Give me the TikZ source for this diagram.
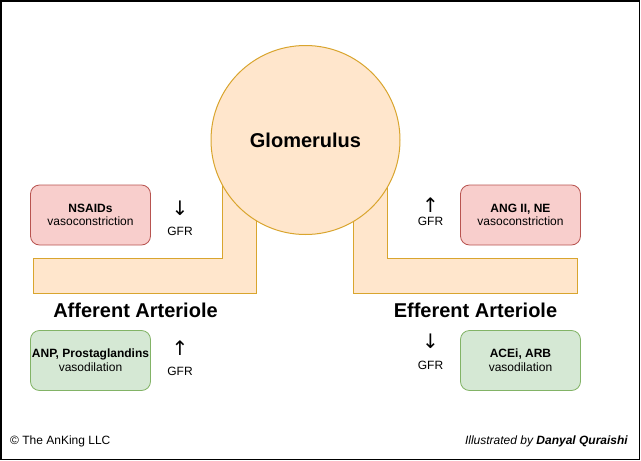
\documentclass[tikz,border=0pt]{standalone}
\usepackage{fontspec}
\setmainfont{Liberation Sans}
\newfontfamily\arrowfont{DejaVu Sans}
\usepackage{tikz}
\usetikzlibrary{positioning}
\definecolor{cPipe}     {HTML}{FFE6CC}
\definecolor{cPipeLine} {HTML}{D9A52E}
\definecolor{cConstr}   {HTML}{F8CECC}
\definecolor{cConstrLn} {HTML}{B85450}
\definecolor{cDilat}    {HTML}{D5E8D4}
\definecolor{cDilatLn}  {HTML}{82B366}
\definecolor{cText}     {HTML}{000000}

\begin{document}
\begin{tikzpicture}[
  x=1pt, y=-1pt,
  every node/.style={align=center, text=cText, inner sep=0pt},
  %
  frame/.style={draw=black, line width=1.5pt},
  pipe/.style={draw=cPipeLine, fill=cPipe, line width=1pt},
  glom/.style={
    circle, draw=cPipeLine, fill=cPipe, line width=1pt,
    minimum size=189pt,
    font=\fontsize{20}{24}\selectfont\bfseries,
  },
  drugbox/.style={
    draw=#1Ln, fill=#1, line width=0.8pt,
    rounded corners=9pt,
    minimum width=120pt, minimum height=60pt,
    font=\fontsize{12}{13.7}\selectfont,
  },
  vessel/.style={font=\fontsize{20}{24}\selectfont\bfseries},
  gfrarrow/.style={font=\arrowfont\fontsize{20}{22}\selectfont},
  gfrtext/.style={font=\fontsize{12}{14}\selectfont},
  credit/.style={font=\fontsize{12}{14}\selectfont},
]
\useasboundingbox (0,0) rectangle (641,461);

% ────────────── FRAME ───────────────────────────────────────────────────────
\draw[frame] (0.75,0.75) rectangle (639.5,459.5);

% ────────────── ARTERIOLES (behind the glomerulus) ─────────────────────────
\draw[pipe] (33.5,258.5) -- (222.8,258.5) -- (222.8,175) -- (256.7,175)
            -- (256.7,293.3) -- (33.5,293.3) -- cycle;
\draw[pipe] (353.5,175) -- (387.5,175) -- (387.5,258.5) -- (577.5,258.5)
            -- (577.5,293.3) -- (353.5,293.3) -- cycle;

% ────────────── GLOMERULUS ─────────────────────────────────────────────────
\node[glom] (glom) at (305.5,140) {Glomerulus};

% ────────────── DRUG BOXES ─────────────────────────────────────────────────
\node[drugbox=cConstr] (nsaid) at (90.5,215)  {\textbf{NSAIDs}\\vasoconstriction};
\node[drugbox=cConstr] (ang)   at (520.5,215) {\textbf{ANG II, NE}\\vasoconstriction};
\node[drugbox=cDilat]  (anp)   at (90.5,360.5)  {\textbf{ANP, Prostaglandins}\\vasodilation};
\node[drugbox=cDilat]  (acei)  at (520.5,360.5) {\textbf{ACEi, ARB}\\vasodilation};

% ────────────── VESSEL LABELS ──────────────────────────────────────────────
\node[vessel] (aff) at (135.5,310) {Afferent Arteriole};
\node[vessel] (eff) at (475.5,310) {Efferent Arteriole};

% ────────────── GFR EFFECTS ────────────────────────────────────────────────
\node[gfrarrow] (nsaid_dir) at (180,208)   {↓};
\node[gfrtext]  (nsaid_gfr) at (180,231)   {GFR};
\node[gfrarrow] (ang_dir)   at (430.5,205) {↑};
\node[gfrtext]  (ang_gfr)   at (430.5,221) {GFR};
\node[gfrarrow] (anp_dir)   at (180,348)   {↑};
\node[gfrtext]  (anp_gfr)   at (180,371)   {GFR};
\node[gfrarrow] (acei_dir)  at (430.5,341) {↓};
\node[gfrtext]  (acei_gfr)  at (430.5,365) {GFR};

% ────────────── CREDITS ────────────────────────────────────────────────────
\node[credit, anchor=west] (copy)  at (10,441)  {© The AnKing LLC};
\node[credit, anchor=east] (illus) at (628,441) {\itshape Illustrated by \textbf{Danyal Quraishi}};

\end{tikzpicture}
\end{document}
